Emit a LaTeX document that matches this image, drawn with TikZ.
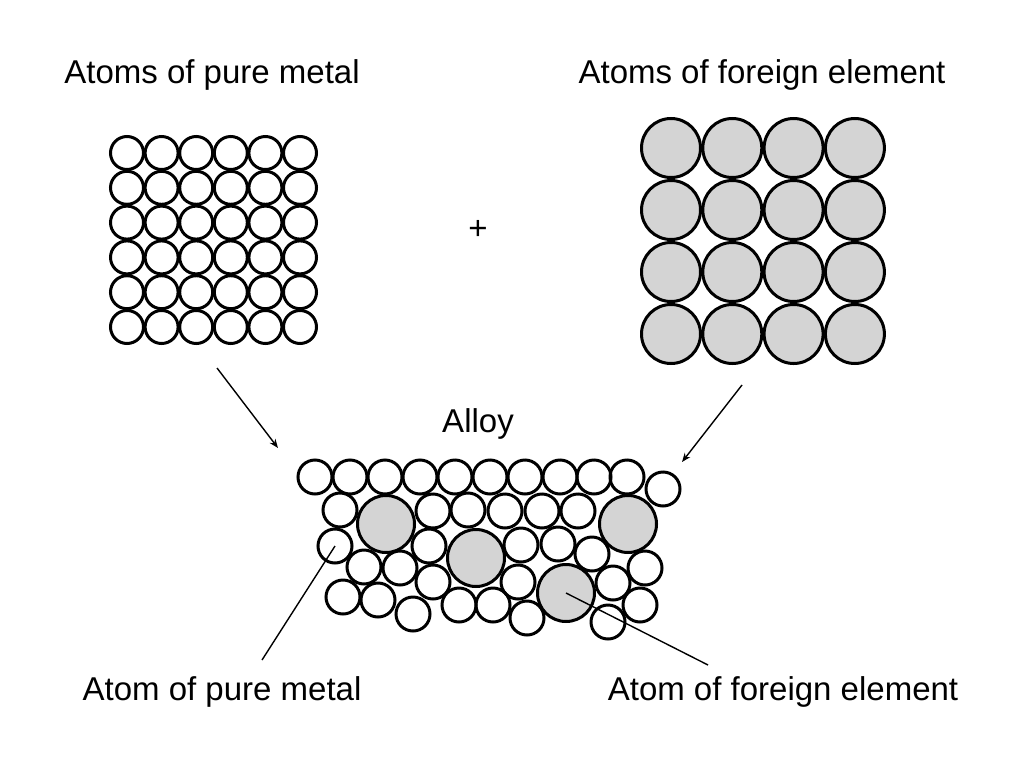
\documentclass[tikz,border=0pt]{standalone}
\usepackage{fontspec}
\setmainfont{Liberation Sans}
\usetikzlibrary{arrows.meta}
\begin{document}
\begin{tikzpicture}[x=1pt,y=-1pt,
  atom/.style={circle,draw,line width=3pt,inner sep=0pt,minimum size=32pt},
  big/.style={circle,draw,line width=3pt,inner sep=0pt,fill=black!17,minimum size=57pt},
  lbl/.style={font=\fontsize{33}{36}\selectfont,inner sep=0pt}]
\useasboundingbox (0,0) rectangle (1024,768);
%pure metal grid
\foreach \i in {0,...,5}
  \foreach \j in {0,...,5}
    \node[atom,minimum size=33pt] (p\i\j) at (127+34.6*\i,153+34.8*\j) {};
%foreign grid
\foreach \i in {0,...,3}
  \foreach \j in {0,...,3}
    \node[big,minimum size=59pt] (f\i\j) at (671+61.3*\i,148+62*\j) {};
%alloy, small atoms
\foreach \x/\y [count=\n] in {315/477,350/477,385/477,420/477,455/477,490/477,525/477,560/477,594/477,627/477,663/489,
  340/510,433/511,468/510,505/511,542/511,578/511,
  335/546,429/546,521/545,558/544,592/554,645/568,
  364/567,400/568,433/582,518/582,613/583,
  343/597,378/600,413/614,459/605,493/605,527/618,608/622,640/605}
  \node[atom,minimum size=34pt] (s\n) at (\x,\y) {};
%alloy, large atoms
\node[big] (b1) at (386,524) {};
\node[big] (b2) at (628,524) {};
\node[big] (b3) at (476,558) {};
\node[big] (b4) at (566,593) {};
%texts
\node[lbl] (tpure) at (212,75) {Atoms of pure metal};
\node[lbl] (tfor) at (762,75) {Atoms of foreign element};
\node[lbl] (plus) at (478,230) {+};
\node[lbl] (alloy) at (478,424) {Alloy};
\node[lbl] (apure) at (222,692) {Atom of pure metal};
\node[lbl] (afor) at (783,692) {Atom of foreign element};
%arrows and pointers
\coordinate (a1) at (217,368);
\coordinate (a2) at (278,448);
\coordinate (a3) at (742,385);
\coordinate (a4) at (682,462);
\draw[line width=1.4pt,-{Stealth[length=9pt,width=7pt]}] (a1) -- (a2);
\draw[line width=1.4pt,-{Stealth[length=9pt,width=7pt]}] (a3) -- (a4);
\coordinate (c1) at (262,660);
\coordinate (c2) at (708,665);
\draw[line width=1.4pt] (c1) -- (s18.center);
\draw[line width=1.4pt] (c2) -- (b4.center);
\end{tikzpicture}
\end{document}
